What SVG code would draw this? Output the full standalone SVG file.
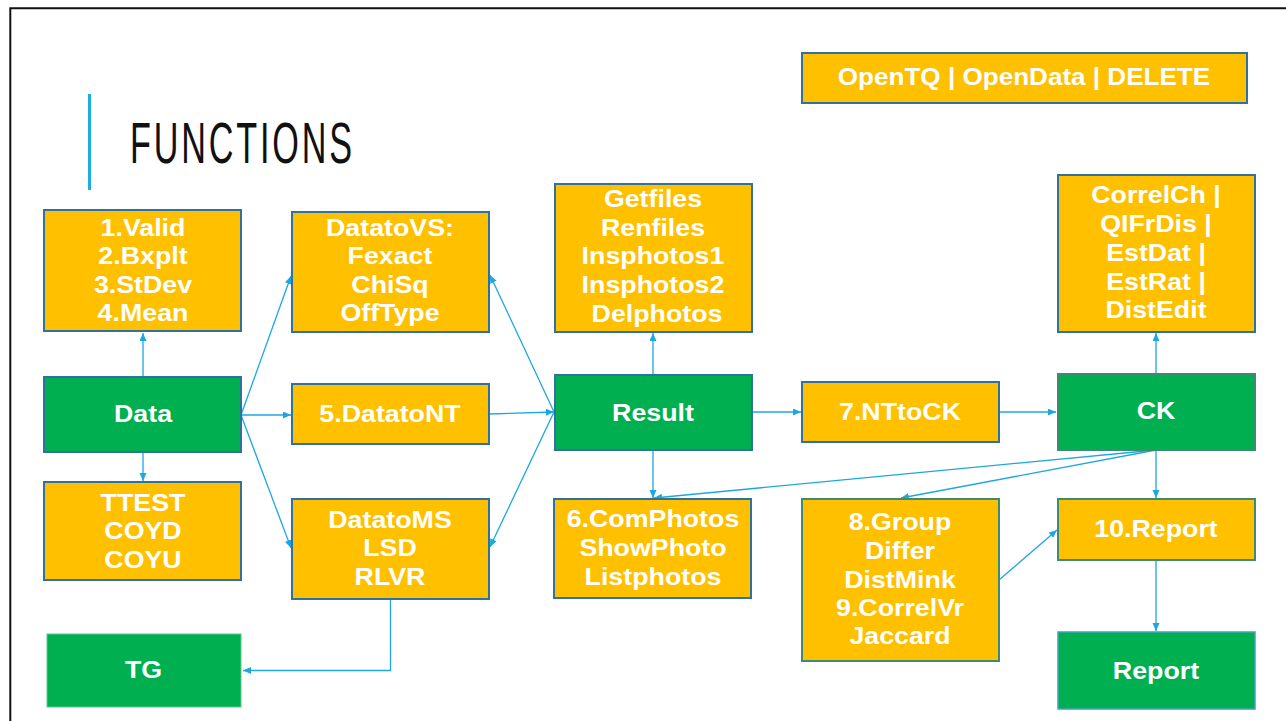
<svg xmlns="http://www.w3.org/2000/svg" width="1286" height="721" viewBox="0 0 1286 721">
<style>
  .o{fill:#FFC000;stroke:#2F72A0;stroke-width:2}
  .og{fill:#FFC000;stroke:#3E8A72;stroke-width:2}
  .g{fill:#00B050;stroke:#2F72A0;stroke-width:2}
  .gg{fill:#00B050;stroke:#3E8A72;stroke-width:2}
  .t{font-family:"Liberation Sans",Arial,sans-serif;font-weight:bold;font-size:23.5px;fill:#FFFFFF;text-anchor:middle}
  .c{fill:none;stroke:#1CA7E1;stroke-width:1.3}
</style>
<defs>
  <marker id="ah" markerUnits="userSpaceOnUse" markerWidth="9" markerHeight="8" refX="8" refY="3.5" orient="auto">
    <path d="M0,0 L8,3.5 L0,7 z" fill="#1CA7E1"/>
  </marker>
</defs>
<rect width="1286" height="721" fill="#FFFFFF"/>
<path d="M10.3,721 V8.3 H1286" fill="none" stroke="#111111" stroke-width="2"/>
<rect x="88" y="94" width="3" height="96" fill="#1CADE4"/>
<text transform="translate(130,0) scale(0.6,1)" x="0" y="163" font-family="Liberation Sans,Arial,sans-serif" font-size="57" fill="#111111" textLength="370" lengthAdjust="spacing">FUNCTIONS</text>

<g id="connectors">
  <path class="c" d="M143,376 V333" marker-end="url(#ah)"/>
  <path class="c" d="M143,452 V481" marker-end="url(#ah)"/>
  <path class="c" d="M241,415 L291,276" marker-end="url(#ah)"/>
  <path class="c" d="M241,415 H291" marker-end="url(#ah)"/>
  <path class="c" d="M241,415 L291,548" marker-end="url(#ah)"/>
  <path class="c" d="M554,412 L490,275" marker-end="url(#ah)"/>
  <path class="c" d="M489,414 L554,412" marker-end="url(#ah)"/>
  <path class="c" d="M554,412 L490,547" marker-end="url(#ah)"/>
  <path class="c" d="M653,375 V333" marker-end="url(#ah)"/>
  <path class="c" d="M653,450 V498" marker-end="url(#ah)"/>
  <path class="c" d="M752,412 H801" marker-end="url(#ah)"/>
  <path class="c" d="M999,412 H1056" marker-end="url(#ah)"/>
  <path class="c" d="M1156,373 V333" marker-end="url(#ah)"/>
  <path class="c" d="M1156,450 V498" marker-end="url(#ah)"/>
  <path class="c" d="M1156,450 L654,498" marker-end="url(#ah)"/>
  <path class="c" d="M1156,450 L901,498" marker-end="url(#ah)"/>
  <path class="c" d="M999,580 L1057,530" marker-end="url(#ah)"/>
  <path class="c" d="M1156,560 V631" marker-end="url(#ah)"/>
  <path class="c" d="M390.5,599 V670.5 H243" marker-end="url(#ah)"/>
</g>

<g id="node-open">
  <rect class="o" x="802" y="53" width="445" height="50"/>
  <text class="t" font-size="24" transform="translate(1024,0) scale(1.11,1)" x="0" y="85">OpenTQ | OpenData | DELETE</text>
</g>
<g id="node-stats">
  <rect class="o" x="44" y="210" width="197" height="121"/>
  <text class="t" transform="translate(143,0) scale(1.14,1)" x="0" y="236"><tspan x="0">1.Valid</tspan><tspan x="0" dy="28.4">2.Bxplt</tspan><tspan x="0" dy="28.4">3.StDev</tspan><tspan x="0" dy="28.4">4.Mean</tspan></text>
</g>
<g id="node-datatovs">
  <rect class="o" x="292" y="212" width="197" height="120"/>
  <text class="t" transform="translate(390,0) scale(1.14,1)" x="0" y="236"><tspan x="0">DatatoVS:</tspan><tspan x="0" dy="28.4">Fexact</tspan><tspan x="0" dy="28.4">ChiSq</tspan><tspan x="0" dy="28.4">OffType</tspan></text>
</g>
<g id="node-files">
  <rect class="o" x="555" y="184" width="197" height="148"/>
  <text class="t" transform="translate(653,0) scale(1.14,1)" x="0" y="207"><tspan x="0">Getfiles</tspan><tspan x="0" dy="28.7">Renfiles</tspan><tspan x="0" dy="28.7">Insphotos1</tspan><tspan x="0" dy="28.7">Insphotos2</tspan><tspan x="3.5" dy="28.7">Delphotos</tspan></text>
</g>
<g id="node-correl">
  <rect class="o" x="1058" y="175" width="197" height="157"/>
  <text class="t" transform="translate(1156,0) scale(1.14,1)" x="0" y="203.5"><tspan x="0">CorrelCh |</tspan><tspan x="0" dy="28.7">QIFrDis |</tspan><tspan x="0" dy="28.7">EstDat |</tspan><tspan x="0" dy="28.7">EstRat |</tspan><tspan x="0" dy="28.7">DistEdit</tspan></text>
</g>
<g id="node-data">
  <rect class="g" x="44" y="377" width="197" height="75"/>
  <text class="t" transform="translate(143,0) scale(1.14,1)" x="0" y="422">Data</text>
</g>
<g id="node-datatont">
  <rect class="o" x="292" y="384" width="197" height="60"/>
  <text class="t" transform="translate(390,0) scale(1.14,1)" x="0" y="422">5.DatatoNT</text>
</g>
<g id="node-result">
  <rect class="g" x="555" y="375" width="197" height="75"/>
  <text class="t" transform="translate(653,0) scale(1.14,1)" x="0" y="421">Result</text>
</g>
<g id="node-nttock">
  <rect class="o" x="802" y="382" width="197" height="60"/>
  <text class="t" transform="translate(900,0) scale(1.14,1)" x="0" y="420">7.NTtoCK</text>
</g>
<g id="node-ck">
  <rect class="gg" x="1058" y="374" width="197" height="76"/>
  <text class="t" transform="translate(1156,0) scale(1.14,1)" x="0" y="419.5">CK</text>
</g>
<g id="node-ttest">
  <rect class="o" x="44" y="482" width="197" height="98"/>
  <text class="t" transform="translate(143,0) scale(1.14,1)" x="0" y="511"><tspan x="0">TTEST</tspan><tspan x="0" dy="28.5">COYD</tspan><tspan x="0" dy="28.5">COYU</tspan></text>
</g>
<g id="node-datatoms">
  <rect class="o" x="292" y="499" width="197" height="100"/>
  <text class="t" transform="translate(390,0) scale(1.14,1)" x="0" y="528"><tspan x="0">DatatoMS</tspan><tspan x="0" dy="28.5">LSD</tspan><tspan x="0" dy="28.5">RLVR</tspan></text>
</g>
<g id="node-tg">
  <rect x="47" y="634" width="194" height="73" fill="#00B050" stroke="#5CC68C" stroke-width="1"/>
  <text class="t" transform="translate(143.5,0) scale(1.14,1)" x="0" y="678.5">TG</text>
</g>
<g id="node-comphotos">
  <rect class="o" x="554" y="499" width="197" height="99"/>
  <text class="t" transform="translate(653,0) scale(1.14,1)" x="0" y="527.5"><tspan x="0">6.ComPhotos</tspan><tspan x="0" dy="28.8">ShowPhoto</tspan><tspan x="0" dy="28.8">Listphotos</tspan></text>
</g>
<g id="node-group">
  <rect class="og" x="802" y="499" width="197" height="162"/>
  <text class="t" transform="translate(900,0) scale(1.14,1)" x="0" y="530.5"><tspan x="0">8.Group</tspan><tspan x="0" dy="28.5">Differ</tspan><tspan x="0" dy="28.5">DistMink</tspan><tspan x="0" dy="28.5">9.CorrelVr</tspan><tspan x="0" dy="28.5">Jaccard</tspan></text>
</g>
<g id="node-10report">
  <rect class="og" x="1058" y="499" width="197" height="61"/>
  <text class="t" transform="translate(1156,0) scale(1.14,1)" x="0" y="537">10.Report</text>
</g>
<g id="node-report">
  <rect x="1058" y="632" width="197" height="77" fill="#00B050" stroke="#3BA6B8" stroke-width="1.5"/>
  <text class="t" transform="translate(1156,0) scale(1.14,1)" x="0" y="679">Report</text>
</g>
</svg>
